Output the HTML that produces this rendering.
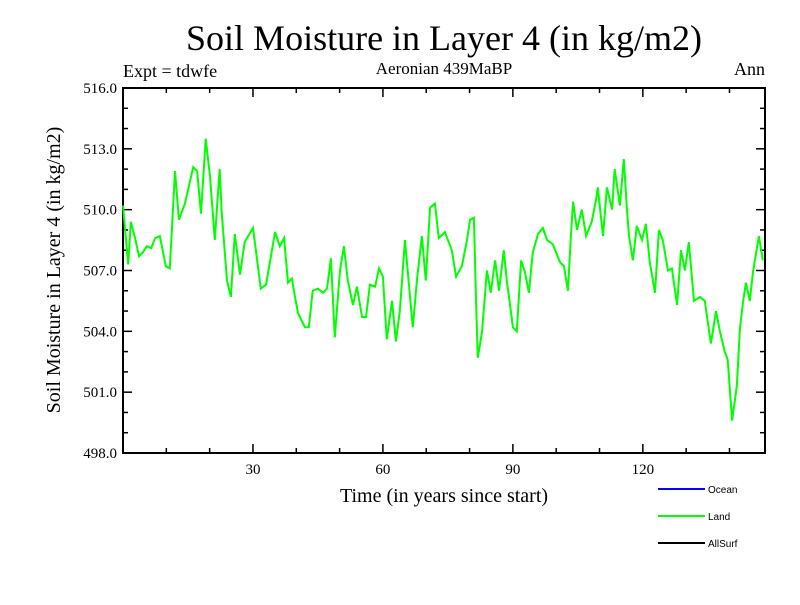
<!DOCTYPE html>
<html><head><meta charset="utf-8"><style>
body{margin:0;background:#fff}
svg text{font-family:"Liberation Serif",serif;fill:#000}
</style></head><body>
<svg id="c" width="800" height="600" viewBox="0 0 800 600">
<text x="444" y="50" font-size="36" text-anchor="middle">Soil Moisture in Layer 4 (in kg/m2)</text>
<text x="123" y="77" font-size="18">Expt = tdwfe</text>
<text x="444" y="74" font-size="17" text-anchor="middle">Aeronian 439MaBP</text>
<text x="765" y="75" font-size="18" text-anchor="end">Ann</text>
<text transform="translate(60,270) rotate(-90)" font-size="20" text-anchor="middle">Soil Moisture in Layer 4 (in kg/m2)</text>
<text x="444" y="502" font-size="20" text-anchor="middle">Time (in years since start)</text>
<g id="axes"></g>
<path id="line" fill="none" stroke="#00ff00" stroke-width="2"/>
<g font-family="Liberation Sans">
<line x1="658" y1="489" x2="705" y2="489" stroke="#0000ff" stroke-width="2"/>
<text x="708" y="493" font-size="10" style="font-family:'Liberation Sans',sans-serif">Ocean</text>
<line x1="658" y1="516" x2="705" y2="516" stroke="#00ff00" stroke-width="2"/>
<text x="708" y="520" font-size="10" style="font-family:'Liberation Sans',sans-serif">Land</text>
<line x1="658" y1="543" x2="705" y2="543" stroke="#000" stroke-width="2"/>
<text x="708" y="547" font-size="10" style="font-family:'Liberation Sans',sans-serif">AllSurf</text>
</g>
</svg>
<script>
const years=[0,0.9,1.2,1.8,2.8,3.7,4.6,5.5,6.5,7.4,8.5,9.9,10.8,12.0,12.9,14.3,16.2,17.1,18.0,19.1,20.1,21.2,22.3,22.8,24.0,24.9,25.8,27.0,28.1,30.0,31.8,33.0,35.1,36.2,37.2,38.1,39.0,39.7,40.4,42.0,42.9,43.8,45.0,46.2,47.1,48.0,48.9,50.1,51.0,51.9,53.1,54.0,55.2,56.1,57.0,58.2,59.1,60.0,60.9,62.1,63.0,63.9,65.1,65.8,66.9,67.9,69.0,69.9,70.9,72.0,72.9,74.3,75.9,76.9,78.2,79.4,80.1,81.0,81.5,81.9,82.9,84.0,84.9,85.9,86.8,87.9,88.6,89.3,90.0,90.9,91.9,92.8,93.7,94.6,95.8,96.9,97.9,99.2,100.9,101.8,102.7,103.4,103.9,104.8,105.9,106.9,108.2,109.2,109.6,110.8,111.7,112.9,113.5,114.7,115.6,116.3,116.8,117.7,118.6,119.8,120.7,121.6,122.8,123.7,124.6,125.8,126.7,127.9,128.8,129.7,130.6,131.8,133.2,134.3,135.7,136.9,137.8,138.9,139.6,140.6,141.7,142.4,143.1,143.8,144.7,145.4,146.8,147.7];
const landValues=[510.2,508,507.3,509.4,508.6,507.7,507.9,508.2,508.1,508.6,508.7,507.2,507.1,511.9,509.5,510.3,512.1,511.9,509.8,513.5,511.6,508.5,512,509.8,506.5,505.7,508.8,506.8,508.4,509.1,506.1,506.3,508.9,508.2,508.6,506.4,506.6,505.7,504.9,504.2,504.2,506.0,506.1,505.9,506.1,507.6,503.7,507.0,508.2,506.5,505.3,506.2,504.7,504.7,506.3,506.2,507.1,506.7,503.6,505.5,503.5,505.0,508.5,506.8,504.2,506.6,508.7,506.5,510.1,510.3,508.6,508.9,508.0,506.7,507.2,508.5,509.5,509.6,505.4,502.7,504.0,507.0,505.9,507.5,506.0,508.0,506.5,505.4,504.2,504.0,507.5,506.9,505.9,507.9,508.8,509.1,508.5,508.3,507.4,507.2,506.0,508.7,510.4,509.0,510.0,508.7,509.4,510.5,511.1,508.7,511.1,510.0,512.0,510.2,512.5,510.1,508.7,507.5,509.2,508.5,509.3,507.4,505.9,509.0,508.5,507.0,507.1,505.3,508.0,507.0,508.4,505.5,505.7,505.5,503.4,505.0,504.0,503.0,502.6,499.6,501.3,504.1,505.4,506.4,505.5,506.9,508.7,507.5];
const yTicks=[498,501,504,507,510,513,516];
const xTicks=[30,60,90,120];
const X0=123,X1=765,Y0=453,Y1=88,XMAX=148.2,YMIN=498,YMAX=516;
const sx=t=>X0+(t/XMAX)*(X1-X0);
const sy=v=>Y0-(v-YMIN)/(YMAX-YMIN)*(Y0-Y1);
const NS="http://www.w3.org/2000/svg";
const g=document.getElementById('axes');
function mk(tag,attrs){const e=document.createElementNS(NS,tag);for(const k in attrs)e.setAttribute(k,attrs[k]);g.appendChild(e);return e;}
const box=mk('rect',{x:X0,y:Y1,width:X1-X0,height:Y0-Y1,fill:'none',stroke:'#000','stroke-width':2});


for(let v=YMIN;v<=YMAX;v++){const major=yTicks.includes(v);const L=major?9:5;
 mk('line',{x1:X0,x2:X0+L,y1:sy(v),y2:sy(v),stroke:'#000','stroke-width':1.5});
 mk('line',{x1:X1,x2:X1-L,y1:sy(v),y2:sy(v),stroke:'#000','stroke-width':1.5});}
yTicks.forEach(v=>{const t=mk('text',{x:X0-6,y:sy(v)+5,'font-size':15,'text-anchor':'end'});t.textContent=v.toFixed(1);
 
 });
for(let t=10;t<XMAX;t+=10){const major=xTicks.includes(t);const L=major?9:5;
 mk('line',{x1:sx(t),x2:sx(t),y1:Y0,y2:Y0-L,stroke:'#000','stroke-width':1.5});
 mk('line',{x1:sx(t),x2:sx(t),y1:Y1,y2:Y1+L,stroke:'#000','stroke-width':1.5});}
xTicks.forEach(v=>{const t=mk('text',{x:sx(v),y:Y0+21,'font-size':15,'text-anchor':'middle'});t.textContent=v;
 
 });
document.getElementById('line').setAttribute('d',years.map((t,i)=>(i?'L':'M')+sx(t).toFixed(1)+','+sy(landValues[i]).toFixed(1)).join(''));
</script>
</body></html>
